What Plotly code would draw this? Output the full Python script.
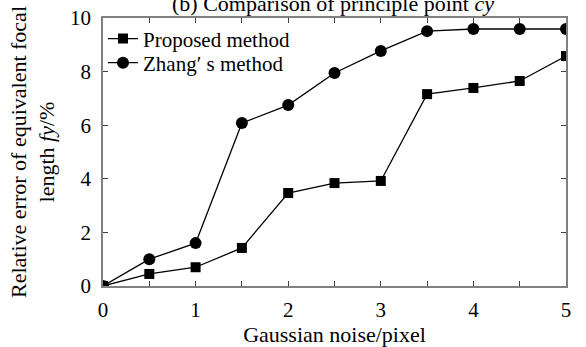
import plotly.graph_objects as go

noise = [0, 0.5, 1, 1.5, 2, 2.5, 3, 3.5, 4, 4.5, 5]
proposed = [0.0, 0.45, 0.7, 1.42, 3.47, 3.84, 3.92, 7.16, 7.39, 7.65, 8.58]
zhang = [0.0, 1.0, 1.6, 6.08, 6.75, 7.95, 8.77, 9.51, 9.59, 9.59, 9.59]
x_ticks = [0, 1, 2, 3, 4, 5]
y_ticks = [0, 2, 4, 6, 8, 10]

FONT = "Liberation Serif, Times New Roman, serif"

fig = go.Figure()
fig.add_trace(go.Scatter(x=noise, y=proposed, mode="lines+markers", name="Proposed method",
                         line=dict(color="black", width=1.3), legend="legend",
                         marker=dict(symbol="square", size=10, color="black")))
fig.add_trace(go.Scatter(x=noise, y=zhang, mode="lines+markers", name="Zhang\u2032 s method",
                         line=dict(color="black", width=1.3), legend="legend2",
                         marker=dict(symbol="circle", size=12, color="black")))

axis_common = dict(showline=True, linecolor="#808080", linewidth=1.5, mirror="ticks",
                   ticks="inside", ticklen=5, tickcolor="#404040", showgrid=False, zeroline=False,
                   automargin=False,
                   tickfont=dict(family=FONT, size=21, color="black"))

fig.update_xaxes(range=[0, 5], tickvals=x_ticks, ticklabelstandoff=4,
                 minor=dict(dtick=0.5, ticks="inside", ticklen=5, tickcolor="#404040"),
                 title=dict(text="Gaussian noise/pixel", font=dict(family=FONT, size=22, color="black"), standoff=5),
                 **axis_common)
fig.update_yaxes(range=[0, 10], tickvals=y_ticks, ticklabelstandoff=6,
                 title=dict(text="Relative error of equivalent focal<br>length <i>fy</i>/%",
                            font=dict(family=FONT, size=22, color="black"), standoff=9),
                 **axis_common)

fig.add_annotation(text="(b) Comparison of principle point <i>cy</i>", xref="paper", yref="paper",
                   x=0.497, y=1, xanchor="center", yanchor="bottom", yshift=0, showarrow=False,
                   font=dict(family=FONT, size=22, color="black"))

leg_common = dict(x=0.0, xanchor="left", yanchor="middle", bgcolor="rgba(0,0,0,0)",
                  font=dict(family=FONT, size=21, color="black"), itemwidth=30)
fig.update_layout(width=586, height=347, margin=dict(l=103, r=20, t=18, b=61),
                  plot_bgcolor="white", paper_bgcolor="white",
                  legend=dict(y=0.922, **leg_common),
                  legend2=dict(y=0.832, **leg_common),
                  showlegend=True)

fig.write_html("out.html", config={"displayModeBar": False},
               post_script="document.body.style.margin='0';document.body.style.overflow='hidden';")
